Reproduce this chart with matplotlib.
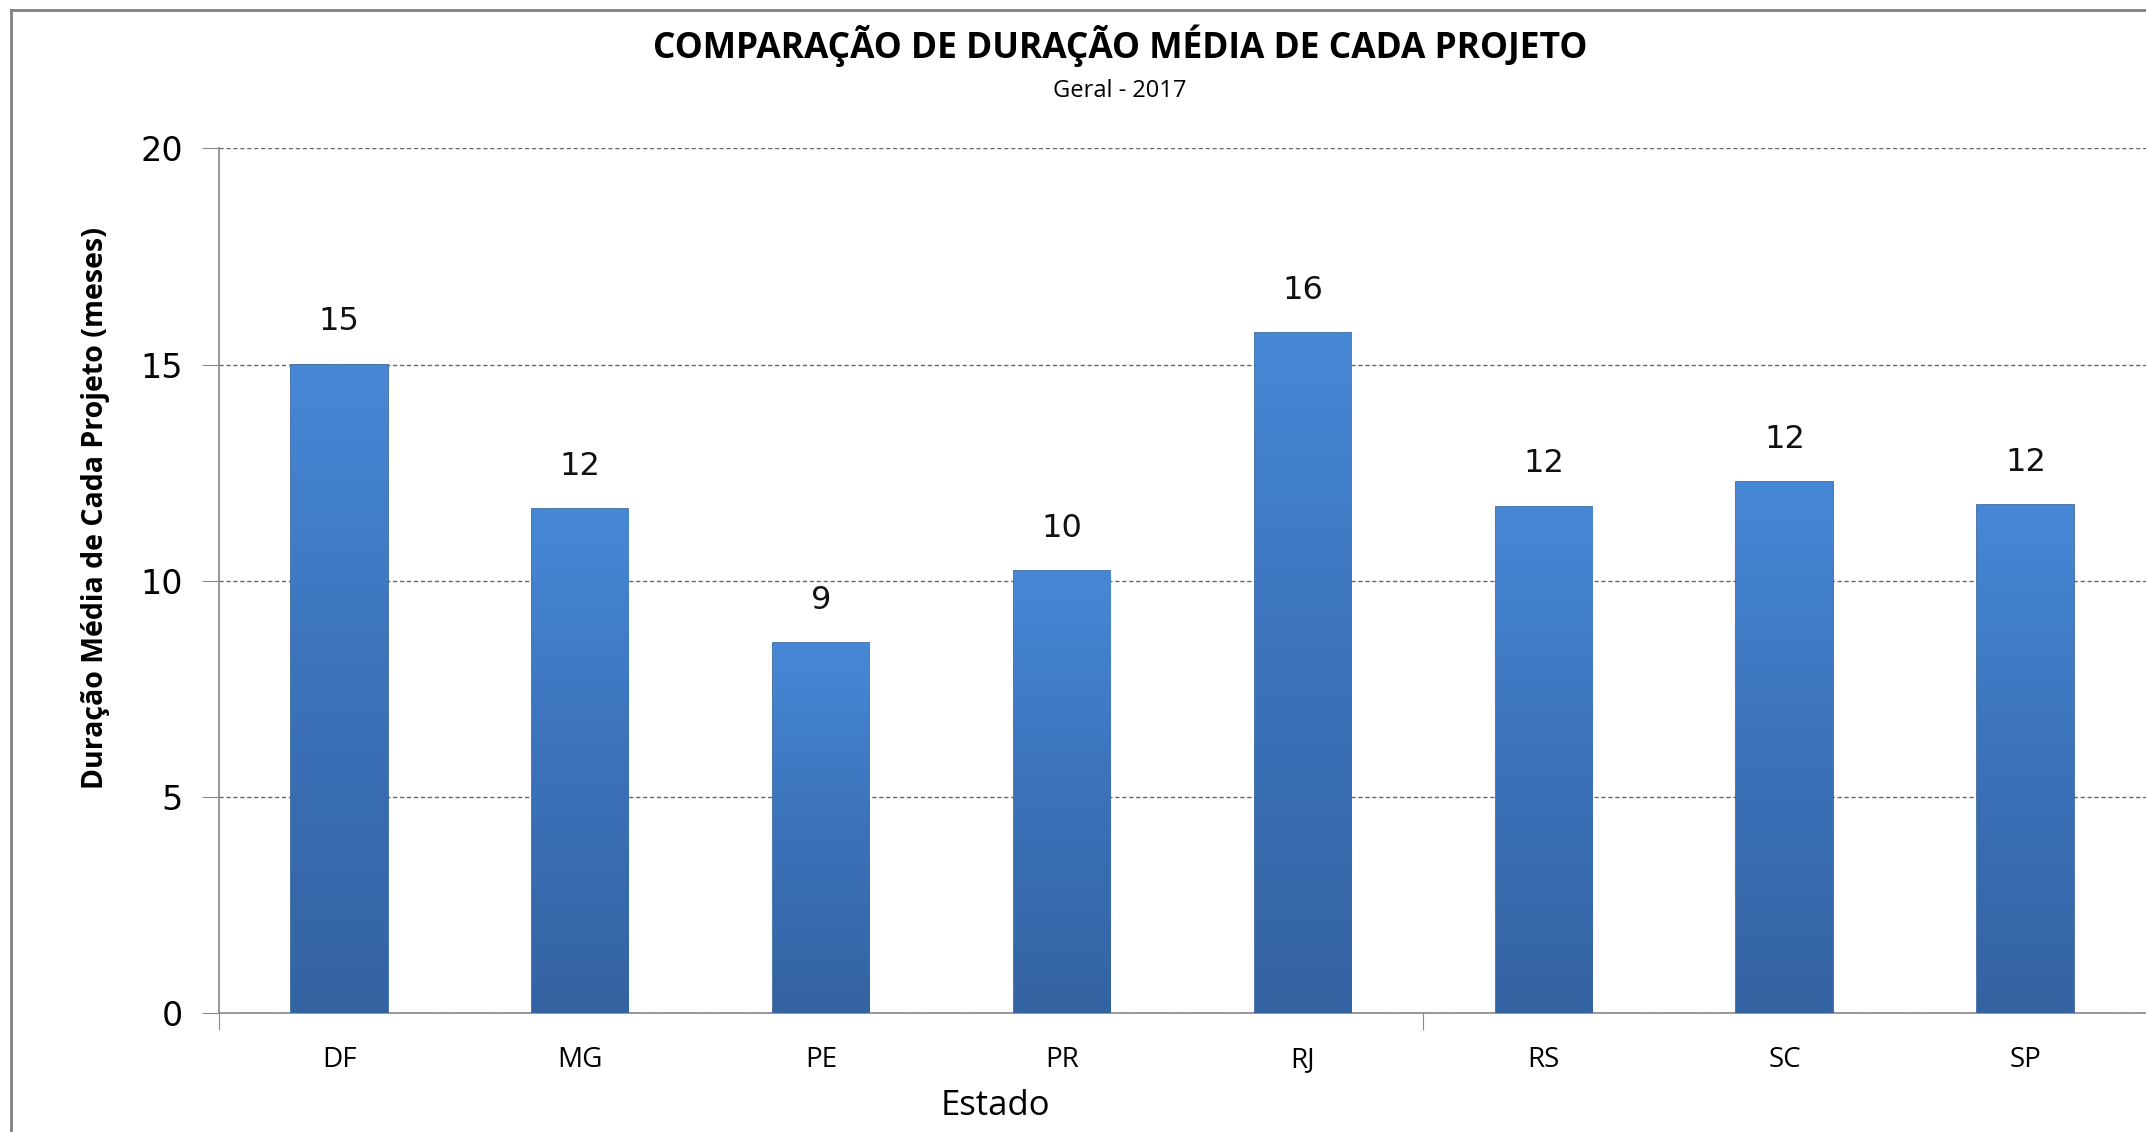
import numpy as np
import matplotlib.pyplot as plt
from matplotlib.colors import LinearSegmentedColormap
from matplotlib.lines import Line2D

# Data
estados = ["DF", "MG", "PE", "PR", "RJ", "RS", "SC", "SP"]
duracao = [15.0, 11.65, 8.55, 10.22, 15.72, 11.71, 12.28, 11.74]
y_ticks = [0, 5, 10, 15, 20]

title = "COMPARAÇÃO DE DURAÇÃO MÉDIA DE CADA PROJETO"
subtitle = "Geral - 2017"
xlabel = "Estado"
ylabel = "Duração Média de Cada Projeto (meses)"

text_font = ["Open Sans", "DejaVu Sans"]
num_font = ["DejaVu Sans"]

fig = plt.figure(figsize=(21.46, 11.32), dpi=100)
ax = fig.add_axes([0.102, 0.105, 0.898, 0.764])

x = np.arange(len(estados))
bars = ax.bar(x, duracao, width=0.40, color="#3f7bc6", edgecolor="#2f5d96",
              linewidth=1.2, zorder=3)

# vertical gradient inside each bar (light top -> darker bottom)
cmap = LinearSegmentedColormap.from_list("barg", ["#3463a2", "#3b72ba", "#4788d6"])
grad = np.linspace(0, 1, 256).reshape(-1, 1)
for b in bars:
    x0, y0 = b.get_x(), b.get_y()
    w, h = b.get_width(), b.get_height()
    im = ax.imshow(grad, cmap=cmap, origin="lower", aspect="auto",
                   extent=[x0, x0 + w, y0, y0 + h], zorder=3.5)
    im.set_clip_path(b)

for xi, v in zip(x, duracao):
    ax.annotate(f"{v:.0f}", (xi, v), xytext=(0, 31), textcoords="offset points",
                ha="center", va="center", fontsize=23, family=num_font, color="#111111")

ax.set_xlim(-0.5, 7.5)
ax.set_ylim(0, 20)
ax.set_yticks(y_ticks)
ax.set_yticklabels([str(t) for t in y_ticks], family=num_font, fontsize=24)
ax.set_xticks([-0.5, 4.5])
ax.set_xticklabels([])
ax.set_xticks(x, minor=True)
ax.set_xticklabels(estados, minor=True, family=text_font, fontsize=20)
ax.tick_params(axis="x", which="minor", length=0, pad=24)
ax.tick_params(axis="x", which="major", length=12, color="#888888", direction="out")
ax.tick_params(axis="y", length=12, color="#888888", direction="out", pad=14)

ax.yaxis.grid(True, linestyle=(0, (3, 2)), color="#666666", linewidth=1.0, zorder=0)
ax.set_axisbelow(True)
for s in ["top", "right"]:
    ax.spines[s].set_visible(False)
for s in ["left", "bottom"]:
    ax.spines[s].set_color("#888888")
    ax.spines[s].set_linewidth(1.2)

ax.set_xlabel(xlabel, family=text_font, fontsize=25, va="center")
ax.xaxis.set_label_coords(0.403, -0.107)
ax.set_ylabel(ylabel, family=text_font, fontsize=20.5, fontweight="bold", va="center")
ax.yaxis.set_label_coords(-0.064, 0.584)

fig.text(0.522, 0.960, title, ha="center", va="center", family=text_font,
         fontsize=25.5, fontweight="bold")
fig.text(0.522, 0.920, subtitle, ha="center", va="center", family=text_font,
         fontsize=17)

# outer chart border (top and left visible)
fig.add_artist(Line2D([0.005, 1.0], [0.991, 0.991], color="#808080", linewidth=2))
fig.add_artist(Line2D([0.005, 0.005], [0.0, 0.991], color="#808080", linewidth=2))

fig.savefig("out.png", dpi=100)
